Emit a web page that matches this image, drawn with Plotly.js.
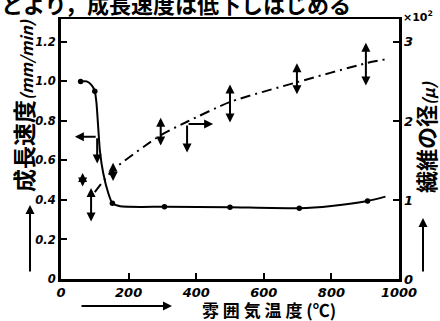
<!DOCTYPE html>
<html>
<head>
<meta charset="utf-8">
<script src="https://cdn.plot.ly/plotly-3.0.1.min.js"></script>
<style>
  html, body { margin: 0; padding: 0; background: #fff; }
  #chart { width: 440px; height: 321px; }
</style>
</head>
<body>
<div id="chart"></div>
<script>
// Growth rate (left axis, mm/min) — smooth curve and measured points
const growthCurveT = [58, 76, 91, 100, 105, 110, 115, 125, 140, 152, 175, 240, 306, 500, 705, 800, 907, 960];
const growthCurveV = [1.0, 1.0, 0.98, 0.95, 0.89, 0.77, 0.65, 0.535, 0.434, 0.383, 0.368, 0.365, 0.366, 0.363, 0.358, 0.37, 0.395, 0.417];
const growthPointT = [58, 100, 152, 306, 500, 705, 907];
const growthPointV = [1.0, 0.95, 0.383, 0.366, 0.363, 0.358, 0.395];

// Fibre diameter (right axis, x10^2 μ) — trend line and measured spread
const diamCurveT = [100, 154, 295, 373, 500, 698, 902, 960];
const diamCurveV = [1.10, 1.38, 1.82, 1.99, 2.24, 2.49, 2.73, 2.78];
const diamBarT    = [64, 89, 154, 295, 500, 698, 902];
const diamBarLow  = [1.15, 0.71, 1.22, 1.67, 1.96, 2.32, 2.43];
const diamBarHigh = [1.34, 1.15, 1.47, 2.04, 2.46, 2.73, 2.99];

// Axis ticks
const xTicks = [0, 200, 400, 600, 800, 1000];
const xTickText = ['0', '200', '400', '600', '800', '1000'];
const yTicks = [0, 0.2, 0.4, 0.6, 0.8, 1.0, 1.2];
const yTickText = ['0', '0.2', '0.4', '0.6', '0.8', '1.0', '1.2'];
const y2Ticks = [0, 1, 2, 3];
const y2TickText = ['0', '1', '2', '3'];

// Curve-to-axis pointers: [corner temp, corner value, horizontal end temp, vertical end value]
const growthPointer = [107, 0.72, 41, 0.585];
const diamPointer = [373, 1.96, 450, 1.60];

// Text
const topLine = 'とより，成長速度は低下しはじめる';
const yTitle = '成長速度';
const yUnit = '(mm/min)';
const y2Title = '繊維の径';
const y2Unit = '(μ)';
const xTitle = '雰 囲 気 温 度 (℃)';
const figLabel = '図 1';

// plot-area pixel frame
const L = 61, R = 399, T = 19, B = 279;
const px = x => (x - L) / (R - L);
const py = y => (B - y) / (B - T);

const numFont = { family: 'DejaVu Sans', size: 11.5, color: '#000', weight: 700, style: 'italic' };
const xNumFont = { family: 'DejaVu Sans', size: 13, color: '#000', weight: 700, style: 'italic' };
const cjk = 'Noto Sans CJK JP';

const traces = [
  { x: growthCurveT, y: growthCurveV, mode: 'lines', yaxis: 'y',
    line: { color: '#000', width: 2, shape: 'spline', smoothing: 0.5 }, hoverinfo: 'skip' },
  { x: growthPointT, y: growthPointV, mode: 'markers', yaxis: 'y',
    marker: { color: '#000', size: 5.5 } },
  { x: diamCurveT, y: diamCurveV, mode: 'lines', yaxis: 'y2',
    line: { color: '#000', width: 2, shape: 'spline', smoothing: 0.6, dash: '10px,5px,2px,5px' } }
];

const annotations = [];

// measured spread of the diameter: double-headed arrows
diamBarT.forEach((t, i) => {
  annotations.push({
    xref: 'x', yref: 'y2', axref: 'x', ayref: 'y2',
    x: t, y: diamBarHigh[i], ax: t, ay: diamBarLow[i],
    text: '', showarrow: true, arrowside: 'end+start',
    arrowhead: 2, arrowsize: 0.9, arrowwidth: 2, arrowcolor: '#000', standoff: 0, startstandoff: 0
  });
});

// pointers showing which axis each curve belongs to
function pointer(p, yref) {
  annotations.push({ xref: 'x', yref: yref, axref: 'x', ayref: yref,
    x: p[2], y: p[1], ax: p[0], ay: p[1], text: '', showarrow: true,
    arrowhead: 2, arrowsize: 0.9, arrowwidth: 2, arrowcolor: '#000', standoff: 0 });
  annotations.push({ xref: 'x', yref: yref, axref: 'x', ayref: yref,
    x: p[0], y: p[3], ax: p[0], ay: p[1], text: '', showarrow: true,
    arrowhead: 2, arrowsize: 0.9, arrowwidth: 2, arrowcolor: '#000', standoff: 0 });
}
pointer(growthPointer, 'y');
pointer(diamPointer, 'y2');

// text placed by pixel position, centred on its anchor unless stated
function label(x, y, text, font, extra) {
  annotations.push(Object.assign({ xref: 'paper', yref: 'paper', x: px(x), y: py(y),
    xanchor: 'center', yanchor: 'middle', text: text, showarrow: false, borderpad: 0, font: font }, extra || {}));
}
function arrow(hx, hy, ax, ay) {
  annotations.push({ xref: 'paper', yref: 'paper', x: px(hx), y: py(hy), ax: ax, ay: ay,
    text: '', showarrow: true, arrowhead: 2, arrowsize: 0.9, arrowwidth: 2, arrowcolor: '#000' });
}

// left axis title with upward arrow
label(23, 106, yTitle + '<span style="font-size:16px;font-style:italic">' + yUnit + '</span>',
  { family: cjk, size: 23, color: '#000', weight: 700 }, { textangle: -90 });
arrow(30, 205, 0, 68);

// right axis title with upward arrow
label(425, 137, y2Title + '<span style="font-size:16px;font-style:italic">' + y2Unit + '</span>',
  { family: cjk, size: 22, color: '#000', weight: 700 }, { textangle: -90 });
arrow(423, 218, 0, 55);

// scale factor of the right axis
label(402, 16, '×10<sup>2</sup>', { family: 'DejaVu Sans', size: 11, color: '#000', weight: 700 },
  { xanchor: 'left' });

// x axis title with rightward arrow
label(269, 309, xTitle, { family: cjk, size: 17, color: '#000', weight: 700 });
arrow(172, 306, -92, 0);

// caption line above and figure number below
label(0, 3, topLine, { family: cjk, size: 22, color: '#000', weight: 700 }, { xanchor: 'left' });
label(74, 329, figLabel, { family: cjk, size: 22, color: '#000', weight: 700 }, { xanchor: 'left' });

const axisCommon = {
  showgrid: false, zeroline: false, showline: true, linecolor: '#000',
  ticks: 'inside', ticklen: 6, tickwidth: 2, tickcolor: '#000', tickfont: numFont
};

const layout = {
  width: 440, height: 321,
  margin: { l: L, r: 440 - R, t: T, b: 321 - B, pad: 0 },
  paper_bgcolor: '#fff', plot_bgcolor: '#fff',
  showlegend: false,
  xaxis: Object.assign({}, axisCommon, { range: [0, 1000], tickvals: xTicks, ticktext: xTickText,
    linewidth: 2.5, mirror: true, tickfont: xNumFont, ticklabelstandoff: 0 }),
  yaxis: Object.assign({}, axisCommon, { range: [0, 1.316], tickvals: yTicks, ticktext: yTickText,
    linewidth: 3, ticklabelstandoff: 0 }),
  yaxis2: Object.assign({}, axisCommon, { range: [0, 3.29], tickvals: y2Ticks, ticktext: y2TickText,
    overlaying: 'y', side: 'right', linewidth: 2.5, tickfont: xNumFont, ticklabelstandoff: 0 }),
  annotations: annotations
};

Plotly.newPlot('chart', traces, layout, { staticPlot: true, displayModeBar: false });
</script>
</body>
</html>
